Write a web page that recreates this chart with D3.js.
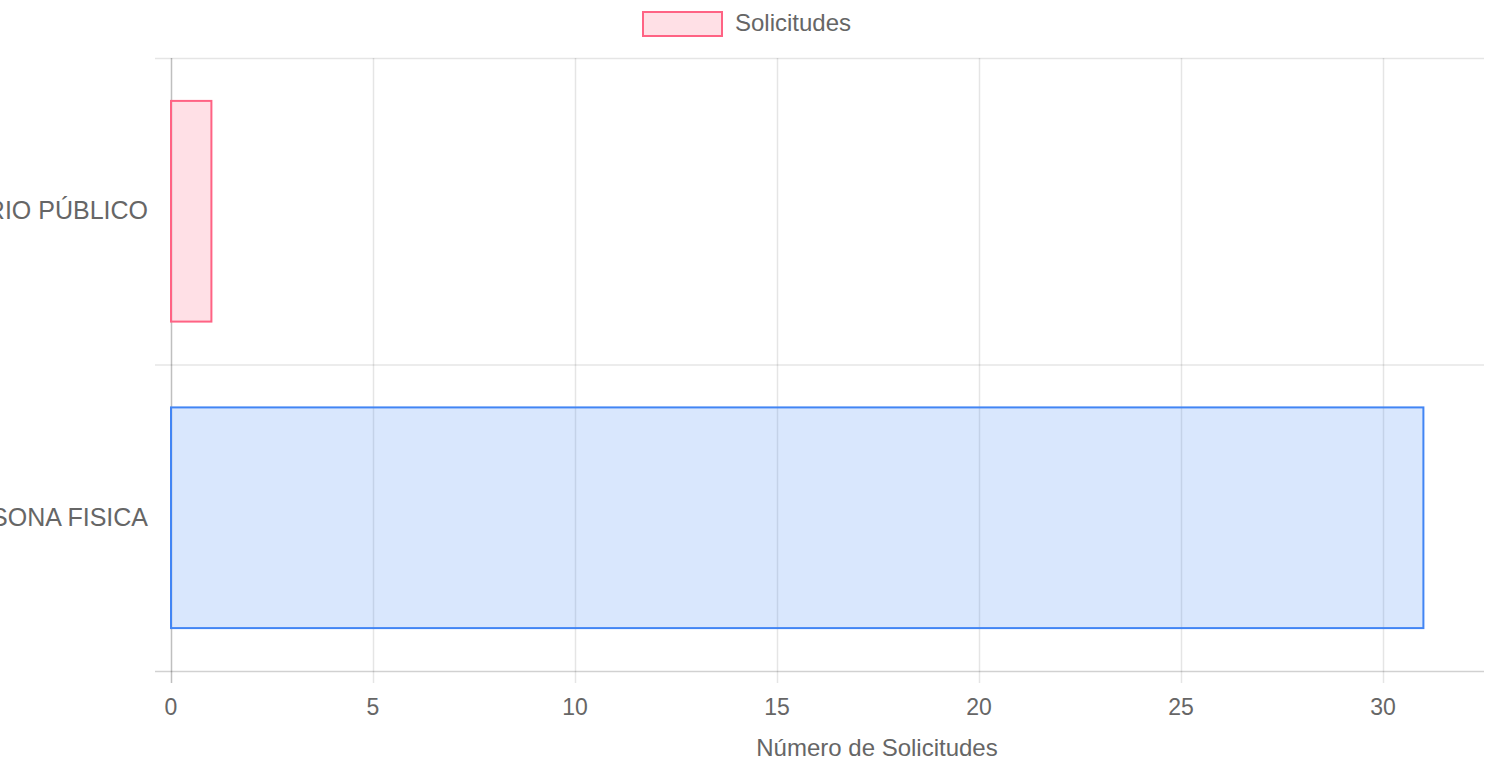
<!DOCTYPE html>
<html>
<head>
<meta charset="utf-8">
<script src="https://cdn.jsdelivr.net/npm/d3@7"></script>
<style>
  body { margin: 0; background: #fff; overflow: hidden; }
  text { font-family: "Liberation Sans", Arial, sans-serif; fill: #666; }
</style>
</head>
<body>
<div id="output"></div>
<script>
var categories = ['MINISTERIO PÚBLICO', 'PERSONA FISICA'];
var values = [1, 31];
var xTicks = [0, 5, 10, 15, 20, 25, 30];
var seriesName = 'Solicitudes';
var axisTitle = 'Número de Solicitudes';

function renderGraph(){
  var width = 1494;
  var height = 763;
  var left = 171, right = 1484, top = 58, bottom = 671;

  var fills = ['rgba(255, 99, 132, 0.2)', 'rgba(66, 133, 244, 0.2)'];
  var strokes = ['rgb(255, 99, 132)', 'rgb(66, 133, 244)'];

  var svg = d3.select('#output')
  .append('svg')
  .attr('width', width)
  .attr('height', height);

  var xScale = d3.scaleLinear()
  .domain([0, 32.5])
  .range([left, right]);

  var yScale = d3.scaleBand()
  .domain(categories)
  .range([top, bottom]);

  // vertical grid lines
  svg.append('g')
  .selectAll('line')
  .data(xTicks)
  .join('line')
  .attr('x1', (d) => xScale(d) + 0.5)
  .attr('x2', (d) => xScale(d) + 0.5)
  .attr('y1', top)
  .attr('y2', bottom + 12)
  .attr('stroke', (d) => d === 0 ? 'rgba(0,0,0,0.25)' : 'rgba(0,0,0,0.1)')
  .attr('stroke-width', 1.5);

  // horizontal grid lines (category boundaries)
  var bounds = categories.map((c) => yScale(c)).concat([bottom]);
  svg.append('g')
  .selectAll('line')
  .data(bounds)
  .join('line')
  .attr('x1', left - 16)
  .attr('x2', right)
  .attr('y1', (d) => d + 0.5)
  .attr('y2', (d) => d + 0.5)
  .attr('stroke', (d, i) => i === bounds.length - 1 ? 'rgba(0,0,0,0.18)' : 'rgba(0,0,0,0.1)')
  .attr('stroke-width', 1.5);

  // bars
  var barH = yScale.bandwidth() * 0.72;
  svg.append('g')
  .selectAll('rect')
  .data(categories)
  .join('rect')
  .attr('x', xScale(0))
  .attr('y', (d) => yScale(d) + (yScale.bandwidth() - barH) / 2)
  .attr('width', (d, i) => xScale(values[i]) - xScale(0))
  .attr('height', barH)
  .attr('fill', (d, i) => fills[i])
  .attr('stroke', (d, i) => strokes[i])
  .attr('stroke-width', 2);

  // x tick labels
  svg.append('g')
  .selectAll('text')
  .data(xTicks)
  .join('text')
  .attr('x', (d) => xScale(d))
  .attr('y', 715)
  .attr('text-anchor', 'middle')
  .style('font-size', '23px')
  .text((d) => d);

  // category labels (clipped at the left edge, as in the original)
  svg.append('g')
  .selectAll('text')
  .data(categories)
  .join('text')
  .attr('x', 148)
  .attr('y', (d) => yScale(d) + yScale.bandwidth() / 2 + 8)
  .attr('text-anchor', 'end')
  .style('font-size', '25px')
  .text((d) => d);

  // axis title
  svg.append('text')
  .attr('x', 877)
  .attr('y', 756)
  .attr('text-anchor', 'middle')
  .style('font-size', '24px')
  .text(axisTitle);

  // legend
  svg.append('rect')
  .attr('x', 643)
  .attr('y', 12)
  .attr('width', 79)
  .attr('height', 24)
  .attr('fill', fills[0])
  .attr('stroke', strokes[0])
  .attr('stroke-width', 2);

  svg.append('text')
  .attr('x', 735)
  .attr('y', 31)
  .style('font-size', '24px')
  .text(seriesName);
}

document.addEventListener('DOMContentLoaded', renderGraph);
</script>
</body>
</html>
